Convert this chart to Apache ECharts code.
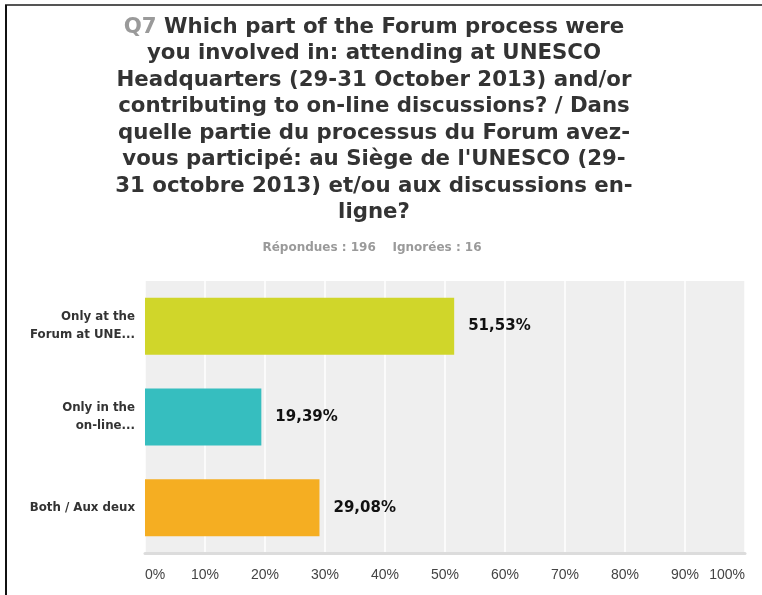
<!DOCTYPE html>
<html>
<head>
<meta charset="utf-8">
<script src="https://cdn.jsdelivr.net/npm/echarts@6/dist/echarts.min.js"></script>
<style>
    html,body{margin:0;padding:0;background:#fff;}
    #chart{width:762px;height:595px;}
</style>
</head>
<body>
<div id="chart"></div>
<script>
    // 数据
    var categories = ['Only at the\nForum at UNE...', 'Only in the\non-line...', 'Both / Aux deux'];
    var values = [51.53, 19.39, 29.08];
    var barColors = ['#d0d62a', '#36bebf', '#f5ae22'];
    var tickLabels = ['0%', '10%', '20%', '30%', '40%', '50%', '60%', '70%', '80%', '90%', '100%'];

    var titleText = '{q|Q7} {t|Which part of the Forum process were\n' +
        'you involved in: attending at UNESCO\n' +
        'Headquarters (29-31 October 2013) and/or\n' +
        'contributing to on-line discussions? / Dans\n' +
        'quelle partie du processus du Forum avez-\n' +
        'vous participé: au Siège de l\'UNESCO (29-\n' +
        '31 octobre 2013) et/ou aux discussions en-\n' +
        'ligne?}';

    var titleFont = 'DejaVu Sans';
    var titleSize = 21.3;

    var chart = echarts.init(document.getElementById('chart'));

    var option = {
        animation: false,
        backgroundColor: '#fff',
        title: [{
            text: titleText,
            left: 374,
            textAlign: 'center',
            top: 14,
            padding: 0,
            textStyle: {
                fontFamily: titleFont,
                fontSize: titleSize,
                fontWeight: 'bold',
                lineHeight: 26.5,
                align: 'center',
                rich: {
                    q: {color: '#9a9a9a', fontSize: titleSize, fontWeight: 'bold', fontFamily: titleFont, lineHeight: 26.5},
                    t: {color: '#333', fontSize: titleSize, fontWeight: 'bold', fontFamily: titleFont, lineHeight: 26.5}
                }
            }
        }, {
            text: 'Répondues : 196    Ignorées : 16',
            left: 372,
            textAlign: 'center',
            top: 242,
            padding: 0,
            textStyle: {
                fontFamily: 'DejaVu Sans',
                fontSize: 12,
                fontWeight: 'bold',
                color: '#9a9a9a'
            }
        }],
        grid: {
            left: 145,
            right: 17,
            top: 281,
            bottom: 42,
            show: true,
            backgroundColor: '#efefef',
            borderWidth: 0
        },
        xAxis: {
            type: 'value',
            min: 0,
            max: 100,
            interval: 10,
            axisLine: {show: true, lineStyle: {color: '#dcdcdc', width: 3}},
            axisTick: {show: false},
            splitLine: {show: true, lineStyle: {color: '#ffffff', width: 1.5}},
            axisLabel: {
                margin: 15,
                color: '#444',
                fontFamily: 'Liberation Sans',
                fontSize: 14,
                alignMinLabel: 'left',
                alignMaxLabel: 'right',
                formatter: function (v) {
                    return tickLabels[Math.round(v / 10)];
                }
            }
        },
        yAxis: {
            type: 'category',
            inverse: true,
            data: categories,
            axisLine: {show: false},
            axisTick: {show: false},
            axisLabel: {
                margin: 10,
                color: '#333',
                fontFamily: 'DejaVu Sans',
                fontWeight: 'bold',
                fontSize: 11.8,
                lineHeight: 18,
                align: 'right'
            }
        },
        series: [{
            type: 'bar',
            barWidth: 57,
            data: values.map(function (v, i) {
                return {value: v, itemStyle: {color: barColors[i]}};
            }),
            label: {
                show: true,
                position: 'right',
                distance: 14,
                color: '#111',
                fontFamily: 'DejaVu Sans',
                fontWeight: 'bold',
                fontSize: 15,
                formatter: function (p) {
                    return p.value.toFixed(2).replace('.', ',') + '%';
                }
            }
        }],
        graphic: [{
            type: 'line',
            shape: {x1: 5, y1: 5, x2: 762, y2: 5},
            style: {stroke: '#555', lineWidth: 2}
        }, {
            type: 'line',
            shape: {x1: 6, y1: 5, x2: 6, y2: 595},
            style: {stroke: '#111', lineWidth: 2}
        }]
    };

    chart.setOption(option);
</script>
</body>
</html>
